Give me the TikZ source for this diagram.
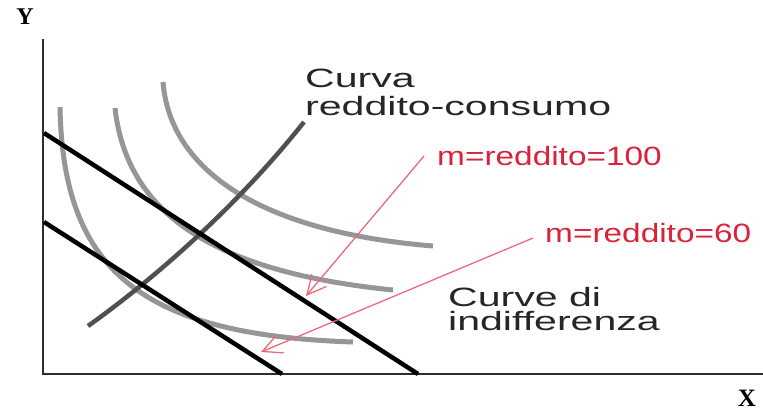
\documentclass[tikz,border=0pt]{standalone}
\usepackage{fontspec}
\setmainfont{Liberation Sans}
\newfontfamily\labelserif{Liberation Serif}
\usetikzlibrary{arrows.meta}
\definecolor{labred}{RGB}{218,34,58}
\definecolor{arrred}{RGB}{236,105,125}
\definecolor{indgray}{RGB}{150,150,150}
\definecolor{icgray}{RGB}{80,80,80}
\definecolor{axgray}{RGB}{45,45,45}
\tikzset{
  axisline/.style={draw=axgray, line width=2pt},
  budget/.style={draw=black, line width=4.5pt},
  indiff/.style={draw=indgray, line width=5pt},
  icc/.style={draw=icgray, line width=4.5pt},
  blacktxt/.style={anchor=base west, inner sep=0pt, font=\fontsize{26.5}{30}\selectfont, text=black!85},
  redtxt/.style={anchor=base west, inner sep=0pt, font=\fontsize{26.5}{30}\selectfont, text=labred},
  axlabel/.style={inner sep=0pt, font=\labelserif\bfseries\fontsize{24}{26}\selectfont},
  redarrow/.style={draw=arrred, line width=1.3pt, -{Straight Barb[length=19pt,width=19pt,line width=1.3pt]}}
}
\begin{document}
\begin{tikzpicture}[x=1pt,y=-1pt]
\useasboundingbox (0,0) rectangle (763,412);
% axes
\coordinate (ytop) at (43,39);
\coordinate (orig) at (43,374);
\coordinate (xend) at (763,374);
\draw[axisline] (ytop) -- (orig) -- (xend);
\node[axlabel] (ylab) at (25,17) {Y};
\node[axlabel, font=\labelserif\bfseries\fontsize{25}{27}\selectfont] (xlab) at (747,398) {X};
% indifference curves
\coordinate (i1a) at (60,107);  \coordinate (i1b) at (353,342);
\coordinate (i2a) at (115,108); \coordinate (i2b) at (393,290);
\coordinate (i3a) at (163,82);  \coordinate (i3b) at (433,246);
\draw[indiff] (i1a) .. controls (63,270) and (140,335) .. (i1b);
\draw[indiff] (i2a) .. controls (127,215) and (215,272) .. (i2b);
\draw[indiff] (i3a) .. controls (170,170) and (260,232) .. (i3b);
% income-consumption curve
\coordinate (icca) at (88,326);
\coordinate (iccb) at (304,122);
\draw[icc] (icca) .. controls (158,276) and (239,204) .. (iccb);
% budget lines
\coordinate (b1a) at (44,133);
\coordinate (b1b) at (418,374);
\coordinate (b2a) at (44,222);
\coordinate (b2b) at (282,374);
\draw[budget] (b1a) -- (b1b);
\draw[budget] (b2a) -- (b2b);
% texts
\node[blacktxt] (c1) at (305,88) {\scalebox{1.55}[1]{Curva}};
\node[blacktxt] (c2) at (305,115) {\scalebox{1.55}[1]{reddito-consumo}};
\node[blacktxt] (d1) at (448,306) {\scalebox{1.55}[1]{Curve di}};
\node[blacktxt] (d2) at (448,330.5) {\scalebox{1.55}[1]{indifferenza}};
\node[redtxt] (m100) at (437,165.5) {\scalebox{1.26}[1]{m=reddito=100}};
\node[redtxt] (m60) at (545,242) {\scalebox{1.26}[1]{m=reddito=60}};
% arrows
\coordinate (a1s) at (424,156);
\coordinate (a1e) at (306,296);
\coordinate (a2s) at (533,238);
\coordinate (a2e) at (261,352);
\draw[redarrow] (a1s) -- (a1e);
\draw[redarrow] (a2s) -- (a2e);
\end{tikzpicture}
\end{document}
